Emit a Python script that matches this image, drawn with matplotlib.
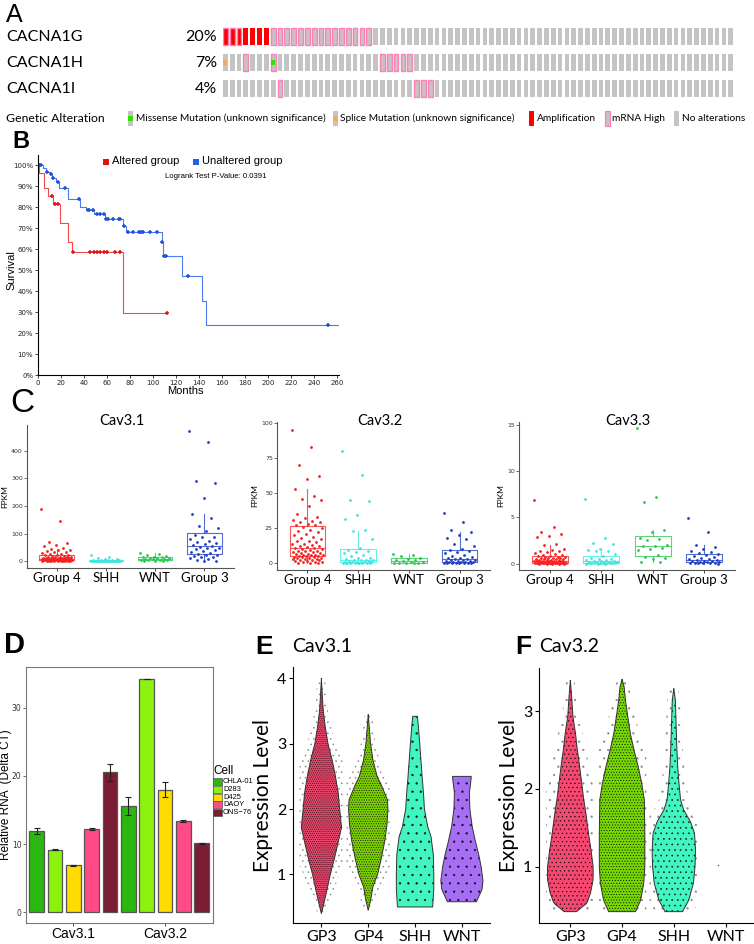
import matplotlib
matplotlib.use("Agg")
import matplotlib.pyplot as plt
import numpy as np
from matplotlib.patches import Rectangle

W, H = 754, 944

# ---------------- A: oncoprint ----------------
genes_a = ["CACNA1G", "CACNA1H", "CACNA1I"]
pct_a = ["20%", "7%", "4%"]
n_samples = 75
amp_cols = [[0, 1, 2, 3, 4, 5, 6], [], []]
mrna_cols = [[0, 1, 2, 7, 8, 9, 10, 11, 12, 13, 14, 15, 16, 17, 18, 19, 20, 21],
             [3, 7, 23, 24, 25, 26, 27],
             [8, 28, 29, 30]]
missense_cols = [[], [7], []]
splice_cols = [[], [0], []]
legend_a = ["Missense Mutation (unknown significance)", "Splice Mutation (unknown significance)",
            "Amplification", "mRNA High", "No alterations"]

# ---------------- B: Kaplan-Meier ----------------
alt_t = [0, 1.2, 5.2, 9.0, 13.3, 19.5, 25.8, 29.3, 73.6, 112]
alt_s = [1.0, 0.96, 0.889, 0.852, 0.813, 0.722, 0.632, 0.584, 0.295, 0.295]
alt_cens = [0.5, 12, 15, 17.7, 30, 45, 49, 51, 54, 57, 60, 67, 71.3, 112]
unalt_t = [0, 4.1, 7.0, 10.0, 12.5, 16.0, 18.6, 26.4, 36.5, 42.0, 48.7, 58.5, 74.2, 76.5,
           107.5, 109.0, 125.0, 143.0, 146.0, 262]
unalt_s = [1.0, 0.987, 0.968, 0.956, 0.94, 0.92, 0.889, 0.838, 0.802, 0.786, 0.765, 0.741,
           0.71, 0.679, 0.632, 0.568, 0.473, 0.354, 0.24, 0.24]
unalt_cens = [0.5, 2.5, 7.5, 11, 13.3, 17.7, 23.5, 35.6, 43.2, 44.6, 47.5, 51, 54, 57.7,
              59.5, 61.2, 65.5, 70.7, 71.5, 75, 78.6, 82.9, 88.1, 89.3, 91, 97.4, 103.2,
              108, 109.6, 111, 130.2, 252]
logrank_p = "0.0391"

# ---------------- C: FPKM by subgroup ----------------
groups_c = ["Group 4", "SHH", "WNT", "Group 3"]
cav31_g4 = [188, 146, 72, 68, 60, 55, 50, 45, 42, 40, 38, 35, 33, 30, 28, 26, 25, 24, 22, 20,
            19, 18, 17, 16, 15, 15, 14, 14, 13, 13, 12, 12, 11, 11, 10, 10, 10, 9, 9, 9, 8, 8, 8,
            8, 7, 7, 7, 7, 6, 6, 6, 6, 5, 5, 5, 5, 5, 4, 4, 4, 4, 3, 3, 3, 3, 2, 2, 2, 2, 1, 1, 1]
cav31_shh = [22, 15, 12, 10, 8, 6, 5, 5, 4, 4, 3, 3, 3, 2, 2, 2, 2, 1.5, 1.5, 1, 1, 1, 1, 1,
             0.8, 0.8, 0.5, 0.5, 0.5, 0.3, 0.3, 0.2, 0.2, 0.1, 0.1, 0.1]
cav31_wnt = [30, 26, 22, 20, 18, 16, 15, 14, 12, 11, 10, 9, 8, 7, 6, 5, 4, 3, 2, 1]
cav31_g3 = [470, 432, 290, 285, 230, 170, 157, 130, 122, 110, 95, 90, 88, 80, 75, 72, 68, 62,
            58, 55, 52, 50, 48, 45, 42, 38, 35, 32, 28, 25, 22, 20, 18, 15, 12, 8, 5, 3, 2]
cav32_g4 = [95, 83, 70, 62, 60, 53, 48, 46, 45, 41, 35, 33, 32, 31, 30, 29.5, 29, 28, 27.5, 27,
            26, 25, 24, 23, 22, 21, 20, 19, 18, 17, 16, 15.5, 15, 14, 13.5, 13, 12.5, 12, 11.5, 11,
            10.5, 10, 9.8, 9.5, 9, 8.8, 8.5, 8, 7.8, 7.5, 7, 6.8, 6.5, 6.2, 6, 5.8, 5.6, 5.4, 5.2, 5,
            4.8, 4.5, 4.2, 4, 3.8, 3.5, 3.2, 3, 2.8, 2.5, 2.2, 2, 1.8, 1.5, 1.2, 1, 0.8, 0.5, 0.3, 0.1]
cav32_shh = [80, 63, 45, 44, 34, 31.5, 24, 23, 17, 11, 9.5, 9, 8, 7, 6, 5, 4, 3.5, 3, 2.5, 2.5,
             2.2, 2, 1.8, 1.5, 1.2, 1, 0.9, 0.8, 0.6, 0.5, 0.5, 0.4, 0.3, 0.2, 0.2, 0.1, 0.1, 0.1, 0.0]
cav32_wnt = [6.5, 6, 5, 4, 3, 2.5, 2, 1.5, 1, 0.8, 0.5, 0.3, 0.2, 0.1, 0.0]
cav32_g3 = [36, 29, 23.5, 22, 20, 18, 17, 14, 12, 10, 9.5, 9, 8, 7, 6, 5, 4.5, 4, 3.5, 3, 3,
            2.5, 2.2, 2, 1.8, 1.5, 1.3, 1.2, 1, 0.9, 0.8, 0.6, 0.5, 0.4, 0.3, 0.2, 0.2, 0.1, 0.1, 0.0]
cav33_g4 = [6.9, 3.9, 3.4, 3.2, 3.0, 2.9, 2.1, 2.0, 1.6, 1.5, 1.4, 1.3, 1.2, 1.1, 1.0, 0.95,
            0.9, 0.85, 0.8, 0.75, 0.7, 0.7, 0.65, 0.6, 0.6, 0.55, 0.5, 0.5, 0.45, 0.45, 0.4, 0.4,
            0.35, 0.35, 0.3, 0.3, 0.3, 0.3, 0.25, 0.25, 0.2, 0.2, 0.2, 0.2, 0.15, 0.15, 0.15, 0.1,
            0.1, 0.1, 0.1, 0.1, 0.08, 0.06, 0.05, 0.05, 0.05, 0.04, 0.03, 0.02, 0.02, 0.02, 0.01,
            0.0, 0.0, 0.0, 0.0, 0.0]
cav33_shh = [7.0, 2.8, 2.2, 2.1, 1.6, 1.5, 1.4, 1.3, 1.0, 0.8, 0.6, 0.5, 0.45, 0.4, 0.35, 0.3,
             0.3, 0.25, 0.2, 0.2, 0.2, 0.15, 0.15, 0.1, 0.1, 0.1, 0.08, 0.05, 0.05, 0.05, 0.03,
             0.02, 0.02, 0.0, 0.0, 0.0]
cav33_wnt = [14.6, 7.2, 6.7, 3.6, 3.4, 2.8, 2.7, 2.5, 2.0, 1.9, 1.9, 1.7, 1.6, 1.5, 0.9, 0.7,
             0.6, 0.5, 0.2, 0.2]
cav33_g3 = [4.9, 3.4, 2.0, 1.8, 1.6, 1.4, 1.2, 1.1, 1.0, 0.9, 0.8, 0.7, 0.6, 0.5, 0.45, 0.4,
            0.35, 0.3, 0.3, 0.25, 0.2, 0.2, 0.15, 0.1, 0.1, 0.1, 0.05, 0.05, 0.02, 0.0]

# ---------------- D: qPCR ----------------
cells_d = ["CHLA-01", "D283", "D425", "DAOY", "ONS\u221276"]
genes_d = ["Cav3.1", "Cav3.2"]
d_cav31_mean = [11.9, 9.2, 6.9, 12.2, 20.5]
d_cav31_err = [0.45, 0.12, 0.05, 0.1, 1.2]
d_cav32_mean = [15.6, 34.2, 18.0, 13.4, 10.1]
d_cav32_err = [1.3, 0.05, 1.1, 0.1, 0.06]

# ---------------- E/F: single-cell violins ----------------
groups_v = ["GP3", "GP4", "SHH", "WNT"]
e_gp3_y = [0.40, 0.5, 0.7, 1.0, 1.25, 1.5, 1.72, 2.0, 2.24, 2.5, 2.75, 3.0, 3.27, 3.5, 3.73, 4.0]
e_gp3_w = [0.0, 0.035, 0.1, 0.19, 0.28, 0.36, 0.43, 0.39, 0.36, 0.30, 0.23, 0.14, 0.08, 0.04, 0.02, 0.0]
e_gp4_y = [0.45, 0.6, 0.81, 1.0, 1.25, 1.5, 1.76, 2.0, 2.14, 2.35, 2.5, 2.75, 3.0, 3.27, 3.45]
e_gp4_w = [0.0, 0.05, 0.1, 0.2, 0.28, 0.35, 0.40, 0.42, 0.41, 0.29, 0.19, 0.10, 0.05, 0.02, 0.0]
e_shh_y = [0.5, 0.77, 1.0, 1.3, 1.58, 1.73, 2.0, 2.24, 2.5, 2.75, 3.0, 3.27, 3.42]
e_shh_w = [0.375, 0.40, 0.40, 0.39, 0.34, 0.27, 0.20, 0.18, 0.15, 0.125, 0.10, 0.07, 0.05]
e_wnt_y = [0.58, 0.77, 0.9, 1.12, 1.3, 1.5, 1.73, 2.0, 2.25, 2.42, 2.5]
e_wnt_w = [0.31, 0.43, 0.45, 0.41, 0.36, 0.29, 0.22, 0.17, 0.16, 0.19, 0.20]
f_gp3_y = [0.42, 0.53, 0.66, 0.83, 1.0, 1.21, 1.43, 1.64, 1.86, 2.07, 2.29, 2.5, 2.71, 2.93, 3.14, 3.4]
f_gp3_w = [0.12, 0.32, 0.39, 0.44, 0.44, 0.40, 0.35, 0.31, 0.26, 0.22, 0.18, 0.135, 0.10, 0.05, 0.03, 0.0]
f_gp4_y = [0.42, 0.57, 0.79, 1.0, 1.43, 1.86, 2.07, 2.29, 2.5, 2.71, 2.93, 3.14, 3.31, 3.41]
f_gp4_w = [0.26, 0.36, 0.42, 0.44, 0.44, 0.43, 0.38, 0.31, 0.23, 0.16, 0.11, 0.065, 0.04, 0.0]
f_shh_y = [0.42, 0.57, 0.79, 1.0, 1.21, 1.43, 1.58, 1.73, 1.86, 2.07, 2.29, 2.5, 2.71, 2.93, 3.14, 3.29]
f_shh_w = [0.17, 0.29, 0.38, 0.41, 0.42, 0.40, 0.32, 0.19, 0.13, 0.10, 0.075, 0.06, 0.05, 0.04, 0.03, 0.0]
f_wnt_cells = [1.02]

plt.rcParams["hatch.linewidth"] = 0.4
fig = plt.figure(figsize=(W / 100, H / 100), dpi=100)

ARIAL = ["Liberation Sans", "DejaVu Sans"]
HUM = ["Lato", "DejaVu Sans"]


def px_axes(left, top, right, bottom):
    return fig.add_axes([left / W, 1 - bottom / H, (right - left) / W, (bottom - top) / H])


def ftext(x, y, s, **kw):
    kw.setdefault("va", "center")
    return fig.text(x / W, 1 - y / H, s, **kw)


# ---- A ----
ftext(6, 15, "A", fontsize=18, family=ARIAL)
ax_a = px_axes(223, 23.8, 223 + n_samples * 6.83, 101.2)
ax_a.set_xlim(0, n_samples)
ax_a.set_ylim(2.5, -0.5)
ax_a.axis("off")
bw, bh = 0.69, 0.68
for r, gene in enumerate(genes_a):
    ftext(6, 37 + r * 25.8, gene, fontsize=11.5, family=HUM)
    ftext(217, 37 + r * 25.8, pct_a[r], fontsize=11.5, family=HUM, ha="right")
    for i in range(n_samples):
        face = "#ff0000" if i in amp_cols[r] else "#c4c4c4"
        edge = "#ff7fb7" if i in mrna_cols[r] else "none"
        ax_a.add_patch(Rectangle((i, r - bh / 2), bw, bh, facecolor=face, edgecolor=edge, lw=1.0))
    for i in missense_cols[r]:
        ax_a.add_patch(Rectangle((i + 0.1, r - bh / 6), bw - 0.2, bh / 3, facecolor="#33e000", lw=0))
    for i in splice_cols[r]:
        ax_a.add_patch(Rectangle((i + 0.05, r - bh / 6), bw - 0.1, bh / 3, facecolor="#f5a860", lw=0))

ftext(6, 118.5, "Genetic Alteration", fontsize=8.8, family=HUM)
leg_x = [128, 333, 529, 605, 674]
leg_face = ["#c4c4c4", "#c4c4c4", "#ff0000", "#c4c4c4", "#c4c4c4"]
leg_edge = ["none", "none", "none", "#ff7fb7", "none"]
leg_mark = ["#33e000", "#f5a860", None, None, None]
ax_la = px_axes(0, 108, W, 130)
ax_la.set_xlim(0, W)
ax_la.set_ylim(130, 108)
ax_la.axis("off")
for k, lab in enumerate(legend_a):
    x0 = leg_x[k]
    ax_la.add_patch(Rectangle((x0, 111), 4.5, 15, facecolor=leg_face[k], edgecolor=leg_edge[k], lw=0.9))
    if leg_mark[k]:
        ax_la.add_patch(Rectangle((x0, 116), 4.5, 5, facecolor=leg_mark[k], lw=0))
    ax_la.text(x0 + 7.5, 118.5, lab, fontsize=7.3, family=HUM, va="center")

# ---- B ----
ftext(12, 141.7, "B", fontsize=17, family=ARIAL, weight="bold")
ax_b = px_axes(38, 155, 38 + 262 * 1.15, 375)
ax_b.set_xlim(0, 262)
ax_b.set_ylim(0, 1.048)
red_line, blue_line = "#ef4a4a", "#4a7cf0"
ax_b.step(alt_t, alt_s, where="post", color=red_line, lw=0.8)
ax_b.step(unalt_t, unalt_s, where="post", color=blue_line, lw=0.8)
for t_arr, s_arr, cens, col in [(alt_t, alt_s, alt_cens, "#e01515"), (unalt_t, unalt_s, unalt_cens, "#2050e0")]:
    idx = np.searchsorted(t_arr, cens, side="right") - 1
    ax_b.plot(cens, np.asarray(s_arr)[idx], linestyle="none", marker="+", ms=3.5, mew=1.1, color=col)
ax_b.set_xticks(np.arange(0, 261, 20))
ax_b.set_yticks(np.arange(0, 1.01, 0.1))
ax_b.set_yticklabels([f"{int(round(v * 100))}%" for v in np.arange(0, 1.01, 0.1)])
ax_b.tick_params(labelsize=5, length=2.5, width=0.6, pad=1, colors="#222")
for s in ["top", "right"]:
    ax_b.spines[s].set_visible(False)
for s in ["left", "bottom"]:
    ax_b.spines[s].set_linewidth(0.8)
ftext(185, 391, "Months", fontsize=8, family=ARIAL, ha="center")
ftext(11, 270, "Survival", fontsize=8, family=ARIAL, ha="center", rotation=90)
ax_lb = px_axes(0, 150, W, 185)
ax_lb.set_xlim(0, W)
ax_lb.set_ylim(185, 150)
ax_lb.axis("off")
ax_lb.add_patch(Rectangle((103, 158.5), 6, 6, facecolor="#e01010", lw=0))
ax_lb.text(112.5, 161.5, "Altered group", fontsize=8, family=ARIAL, va="center")
ax_lb.add_patch(Rectangle((193, 158.5), 6, 6, facecolor="#2060f0", lw=0))
ax_lb.text(201.5, 161.5, "Unaltered group", fontsize=8, family=ARIAL, va="center")
ax_lb.text(165, 176, f"Logrank Test P-Value: {logrank_p}", fontsize=5.6, family=ARIAL, va="center")

# ---- C ----
ftext(10, 404, "C", fontsize=24, family=ARIAL)
c_colors = ["#f52020", "#3de6de", "#28c850", "#1f3ec2"]
c_panels = [
    ("Cav3.1", [cav31_g4, cav31_shh, cav31_wnt, cav31_g3], (27, 425, 234, 568), (-23.5, 493), [0, 100, 200, 300, 400], 122),
    ("Cav3.2", [cav32_g4, cav32_shh, cav32_wnt, cav32_g3], (277, 422, 490, 570), (-4.8, 100.5), [0, 25, 50, 75, 100], 380),
    ("Cav3.3", [cav33_g4, cav33_shh, cav33_wnt, cav33_g3], (519, 422, 735, 570), (-0.7, 15.3), [0, 5, 10, 15], 628),
]
for title, data, box, ylim, yt, tx in c_panels:
    ax = px_axes(*box)
    ax.set_xlim(0.4, 4.6)
    ax.set_ylim(*ylim)
    for g, vals in enumerate(data):
        pos = g + 1
        col = c_colors[g]
        bp = ax.boxplot([vals], positions=[pos], widths=0.7, showfliers=False, patch_artist=False,
                        whis=1.5, manage_ticks=False)
        for key in ["boxes", "whiskers", "caps", "medians"]:
            for art in bp[key]:
                art.set_color(col)
                art.set_alpha(0.75)
                art.set_linewidth(0.8)
        for cap in bp["caps"]:
            cap.set_visible(False)
        offs = ((np.arange(len(vals)) * 0.618034) % 1 - 0.5) * 0.62
        ax.scatter(pos + offs, vals, s=4, color=col, lw=0, zorder=3)
    ax.set_xticks([1, 2, 3, 4])
    ax.set_xticklabels(groups_c, fontsize=9.5, family=HUM)
    ax.set_yticks(yt)
    ax.tick_params(axis="y", labelsize=4.5, length=2, width=0.5, pad=1, colors="#333")
    ax.tick_params(axis="x", length=2, width=0.5, pad=1)
    for s in ["top", "right"]:
        ax.spines[s].set_visible(False)
    for s in ["left", "bottom"]:
        ax.spines[s].set_color("#555")
        ax.spines[s].set_linewidth(0.8)
    ax.set_ylabel("FPKM", fontsize=6, family=HUM, labelpad=2)
    ftext(tx, 421, title, fontsize=10.5, family=HUM, ha="center")

# ---- D ----
ftext(4, 645, "D", fontsize=21, family=ARIAL, weight="bold")
d_colors = ["#2bb80e", "#8cf20d", "#ffdb00", "#ff4a87", "#7a1c32"]
ax_d = px_axes(25.5, 666.7, 212.7, 923.3)
ax_d.set_xlim(0.48, 2.52)
ax_d.set_ylim(-1.6, 36)
for j, cell in enumerate(cells_d):
    xs = np.arange(1, 3) + (j - 2) * 0.2
    ax_d.bar(xs, [d_cav31_mean[j], d_cav32_mean[j]], width=0.16, color=d_colors[j],
             edgecolor="#555", linewidth=0.9, zorder=2)
    ax_d.errorbar(xs, [d_cav31_mean[j], d_cav32_mean[j]], yerr=[d_cav31_err[j], d_cav32_err[j]],
                  fmt="none", ecolor="#222", elinewidth=0.8, capsize=2.5, capthick=0.8, zorder=3)
ax_d.set_xticks([1, 2])
ax_d.set_xticklabels(genes_d, fontsize=10, family=ARIAL)
ax_d.set_yticks([0, 10, 20, 30])
ax_d.tick_params(axis="y", labelsize=5.5, length=2, width=0.5, pad=1, colors="#333")
ax_d.tick_params(axis="x", length=2, width=0.5, pad=1)
for s in ax_d.spines.values():
    s.set_color("#777")
    s.set_linewidth(0.8)
ftext(6.5, 795, "Relative RNA  (Delta CT)", fontsize=8.5, family=ARIAL, rotation=90, ha="center")
ftext(213, 771, "Cell", fontsize=8.5, family=ARIAL)
ax_ld = px_axes(210, 775, 260, 820)
ax_ld.set_xlim(210, 260)
ax_ld.set_ylim(820, 775)
ax_ld.axis("off")
for j, cell in enumerate(cells_d):
    yc = 781.7 + j * 7.7
    ax_ld.add_patch(Rectangle((213, yc - 3.6), 9, 7.2, facecolor=d_colors[j], edgecolor="#555", lw=0.5))
    ax_ld.text(223, yc, cell, fontsize=5.4, family=ARIAL, va="center")

# ---- E / F ----
v_colors_e = ["#e8456a", "#7ccf00", "#40f5c0", "#a66ef5"]
v_colors_f = ["#f5476f", "#76d800", "#40f5c0", "#a66ef5"]


def violin(ax, pos, ys, ws, color, hatch, halo):
    yy = np.linspace(ys[0], ys[-1], 150)
    ww = np.interp(yy, ys, ws)
    if halo:
        hw = np.minimum(0.47, ww * 1.6 + 0.08)
        ax.fill(np.concatenate([pos - hw, (pos + hw)[::-1]]), np.concatenate([yy, yy[::-1]]),
                facecolor="none", edgecolor="#8a8a8a", hatch=halo, linewidth=0, zorder=1)
    xs = np.concatenate([pos - ww, (pos + ww)[::-1]])
    y2 = np.concatenate([yy, yy[::-1]])
    ax.fill(xs, y2, facecolor=color, edgecolor="none", zorder=2)
    ax.fill(xs, y2, facecolor="none", edgecolor="#111", hatch=hatch, linewidth=0, zorder=3)
    ax.fill(xs, y2, facecolor="none", edgecolor="#333", linewidth=0.7, zorder=4)


def style_violin_axes(ax, ylim, yt, xmax):
    ax.set_xlim(0.4, xmax)
    ax.set_ylim(*ylim)
    ax.set_xticks([1, 2, 3, 4])
    ax.set_xticklabels(groups_v, fontsize=11.5, family=HUM)
    ax.set_yticks(yt)
    ax.set_yticklabels([str(v) for v in yt], fontsize=11.5, family=HUM)
    ax.tick_params(length=3, width=0.8, pad=2)
    for s in ["top", "right"]:
        ax.spines[s].set_visible(False)
    ax.set_ylabel("Expression Level", fontsize=15, family=HUM, labelpad=3)


e_sets = [(e_gp3_y, e_gp3_w), (e_gp4_y, e_gp4_w), (e_shh_y, e_shh_w), (e_wnt_y, e_wnt_w)]
e_hatch = ["........", ".......", "..", ".."]
e_halo = ["...", "...", None, None]
ax_e = px_axes(293.3, 666.7, 490, 923.3)
for g, (ys, ws) in enumerate(e_sets):
    violin(ax_e, g + 1, ys, ws, v_colors_e[g], e_hatch[g], e_halo[g])
style_violin_axes(ax_e, (0.25, 4.18), [1, 2, 3, 4], 4.6)
ftext(255, 646.7, "E", fontsize=19, family=ARIAL, weight="bold")
ftext(292, 646.7, "Cav3.1", fontsize=14, family=HUM)

f_sets = [(f_gp3_y, f_gp3_w), (f_gp4_y, f_gp4_w), (f_shh_y, f_shh_w)]
f_hatch = ["....", "......", "..."]
f_halo = ["..", "..", ".."]
ax_f = px_axes(539.3, 668.3, 754, 923.3)
for g, (ys, ws) in enumerate(f_sets):
    violin(ax_f, g + 1, ys, ws, v_colors_f[g], f_hatch[g], f_halo[g])
ax_f.scatter([3.85] * len(f_wnt_cells), f_wnt_cells, s=1.2, color="#555", lw=0)
style_violin_axes(ax_f, (0.27, 3.55), [1, 2, 3], 4.55)
ftext(515, 646.7, "F", fontsize=19, family=ARIAL, weight="bold")
ftext(539, 646.7, "Cav3.2", fontsize=14, family=HUM)

fig.savefig("out.png", dpi=100)
